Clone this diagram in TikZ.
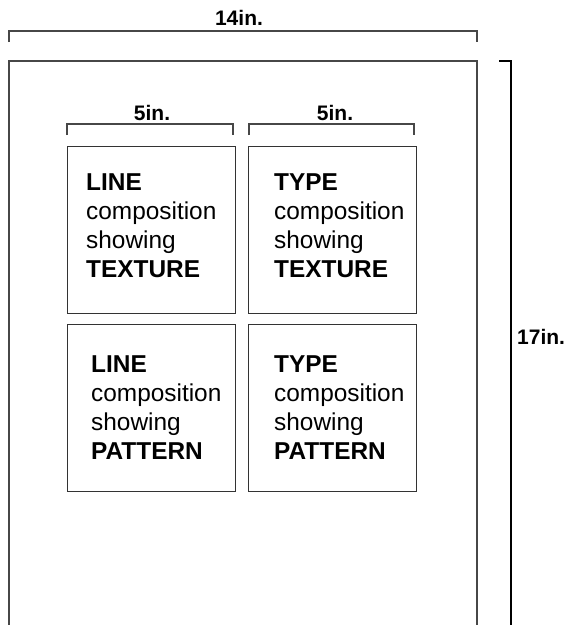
\documentclass[tikz,border=0pt]{standalone}
\usepackage{fontspec}
\setmainfont{Liberation Sans}
\begin{document}
\begin{tikzpicture}[x=1pt,y=-1pt,
  ln/.style={line width=1.3pt, draw=black!72},
  dimlabel/.style={font=\fontsize{21}{25}\selectfont\bfseries, inner sep=0pt},
  panel/.style={ln, line width=1.1pt, draw=black!80, inner sep=0pt},
  paneltext/.style={font=\fontsize{24.4}{29}\selectfont, align=left, inner sep=0pt, anchor=base west}]
\useasboundingbox (0,0) rectangle (567,625);
% outer sheet
\draw[ln, line width=1.5pt] (9,640) -- (9,61) -- (477,61) -- (477,640);
% 14in bracket
\draw[ln] (9,42) -- (9,31) -- (477,31) -- (477,42);
\node[dimlabel, anchor=base] (w14) at (239,25.7) {14in.};
% 17in bracket
\draw[line width=1.1pt, draw=black] (499,61) -- (511,61) -- (511,640);
\node[dimlabel, anchor=base west] (h17) at (517,344) {17in.};
% 5in brackets
\draw[ln, line width=1.1pt] (67,135) -- (67,124) -- (233,124) -- (233,135);
\draw[ln, line width=1.1pt] (249,135) -- (249,124) -- (414,124) -- (414,135);
\node[dimlabel, anchor=base] (w5a) at (152,120.7) {5in.};
\node[dimlabel, anchor=base] (w5b) at (335,120.7) {5in.};
% panels
\node[panel, draw, minimum width=168pt, minimum height=167pt, anchor=north west] (p1) at (67,146) {};
\node[panel, draw, minimum width=168pt, minimum height=167pt, anchor=north west] (p2) at (248,146) {};
\node[panel, draw, minimum width=168pt, minimum height=167pt, anchor=north west] (p3) at (67,324) {};
\node[panel, draw, minimum width=168pt, minimum height=167pt, anchor=north west] (p4) at (248,324) {};
\node[paneltext] (t1) at (86,277) {\textbf{LINE}\\composition\\showing\\\textbf{TEXTURE}};
\node[paneltext] (t2) at (274,277) {\textbf{TYPE}\\composition\\showing\\\textbf{TEXTURE}};
\node[paneltext] (t3) at (91,459) {\textbf{LINE}\\composition\\showing\\\textbf{PATTERN}};
\node[paneltext] (t4) at (274,459) {\textbf{TYPE}\\composition\\showing\\\textbf{PATTERN}};
\end{tikzpicture}
\end{document}
